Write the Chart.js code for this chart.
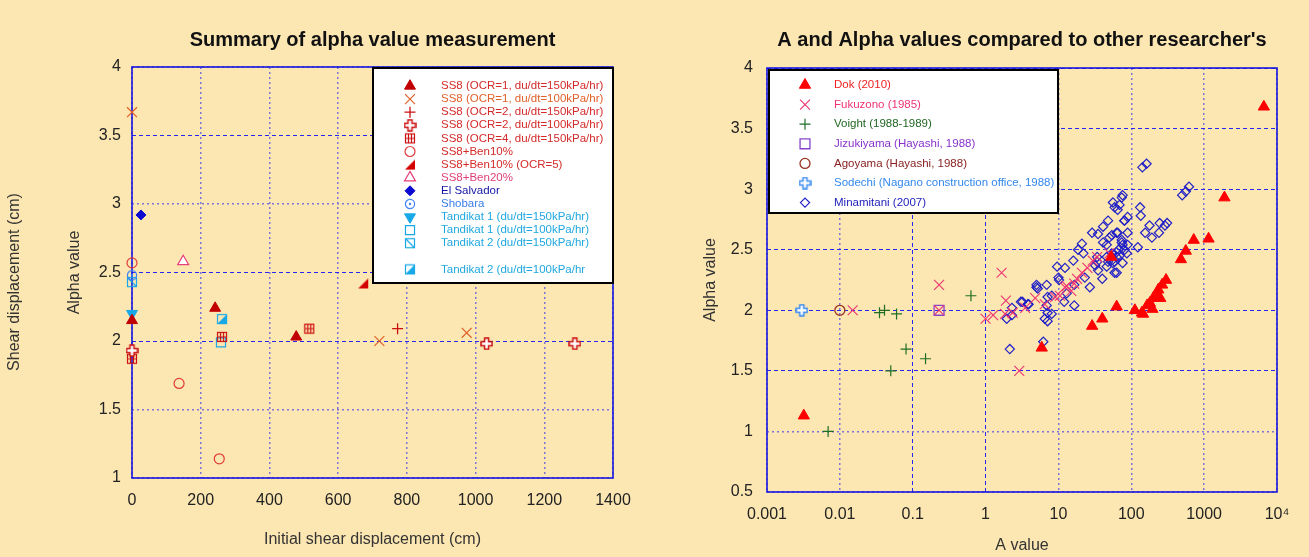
<!DOCTYPE html>
<html>
<head>
<meta charset="utf-8">
<script src="https://cdn.jsdelivr.net/npm/chart.js@4.4.0/dist/chart.umd.min.js"></script>
<style>
  html, body { margin: 0; padding: 0; background: #fce7b2; }
  #wrap { position: relative; width: 1309px; height: 557px; overflow: hidden; }
  .panel { position: absolute; top: 0; height: 557px; }
  #leftPanel { left: 0; width: 655px; }
  #rightPanel { left: 655px; width: 654px; }
</style>
</head>
<body>
<div id="wrap">
  <div class="panel" id="leftPanel"><canvas id="alphaChart" width="655" height="557"></canvas></div>
  <div class="panel" id="rightPanel"><canvas id="compareChart" width="654" height="557"></canvas></div>
</div>
<script>
// ---------- left chart data ----------
const dispTicks = [0, 200, 400, 600, 800, 1000, 1200, 1400];
const alphaTicksLeft = [1, 1.5, 2, 2.5, 3, 3.5, 4];
const alphaLabelsLeft = ['1', '1.5', '2', '2.5', '3', '3.5', '4'];

const ss8Ocr1Fast = [[0, 2.15], [242, 2.24], [478, 2.03]];
const ss8Ocr1Slow = [[0, 3.67], [720, 2.0], [974, 2.06]];
const ss8Ocr2Fast = [[773, 2.09]];
const ss8Ocr2Slow = [[0, 1.93], [1032, 1.98], [1289, 1.98]];
const ss8Ocr4Fast = [[0, 1.87], [262, 2.03], [516, 2.09]];
const ben10 = [[0, 2.57], [137, 1.69], [254, 1.14]];
const ben10Ocr5 = [[673, 2.42]];
const ben20 = [[149, 2.58]];
const elSalvador = [[26, 2.92]];
const shobara = [[0, 2.48]];
const tandikat1Fast = [[0, 2.2]];
const tandikat1Slow = [[259, 1.99]];
const tandikat2Fast = [[0, 2.43]];
const tandikat2Slow = [[262, 2.16]];

// ---------- right chart data ----------
const aTicks = [0.001, 0.01, 0.1, 1, 10, 100, 1000, 10000];
const aTickLabels = ['0.001', '0.01', '0.1', '1', '10', '100', '1000', '10\u2074'];
const alphaTicksRight = [0.5, 1, 1.5, 2, 2.5, 3, 3.5, 4];
const alphaLabelsRight = ['0.5', '1', '1.5', '2', '2.5', '3', '3.5', '4'];

const dok = [[0.0032, 1.13], [5.9, 1.69], [29, 1.87], [40, 1.93], [53, 2.44], [63, 2.03],
  [112, 2.0], [140, 1.98], [145, 1.97], [165, 2.04], [180, 2.06], [195, 2.01], [200, 2.1],
  [225, 2.14], [235, 2.17], [250, 2.1], [265, 2.21], [300, 2.25], [480, 2.42], [560, 2.49],
  [720, 2.58], [1150, 2.59], [1900, 2.93], [6600, 3.68]];
const fukuzono = [[0.015, 2.0], [0.23, 2.21], [0.23, 2.0], [1.66, 2.31], [1.0, 1.93],
  [1.27, 1.96], [1.9, 2.08], [1.85, 1.97], [2.9, 1.5], [4.8, 2.1], [2.35, 1.98], [3.5, 2.02],
  [6.5, 2.05], [9, 2.11], [10.5, 2.12], [12.3, 2.19], [13, 2.2], [15, 2.16], [16.5, 2.22],
  [18, 2.26], [21, 2.31], [25, 2.35], [29.5, 2.41], [34, 2.44], [50, 2.47]];
const voight = [[0.0069, 1.0], [0.035, 1.98], [0.041, 2.0], [0.06, 1.97], [0.081, 1.68],
  [0.05, 1.5], [0.15, 1.6], [0.63, 2.12]];
const jizukiyama = [[0.23, 2.0]];
const agoyama = [[0.01, 2.0]];
const sodechi = [[0.003, 2.0]];
const minamitani = [[2.15, 1.68], [6.2, 1.74], [1.95, 1.93], [2.3, 1.96], [2.3, 2.02],
  [3.05, 2.07], [3.2, 2.07], [3.8, 2.05], [3.9, 2.05], [5.0, 2.21], [5.2, 2.18], [5.0, 2.19],
  [6.9, 2.21], [7.1, 2.11], [6.9, 2.04], [6.5, 1.93], [7.1, 1.98], [7.1, 1.91], [8.1, 1.97],
  [8.1, 2.12], [9.6, 2.36], [10, 2.27], [10.2, 2.25], [12.3, 2.35], [12, 2.07], [13, 2.14],
  [16.5, 2.04], [16, 2.41], [16.5, 2.21], [21, 2.55], [22, 2.47], [18.6, 2.5], [23, 2.27],
  [27, 2.19], [29, 2.64], [35, 2.63], [34, 2.44], [34, 2.4], [32, 2.37], [40, 2.26], [35, 2.33],
  [41, 2.69], [48, 2.74], [41, 2.56], [46, 2.54], [50, 2.6], [54, 2.62], [46, 2.44], [46, 2.36],
  [48, 2.4], [54, 2.47], [54, 2.41], [56, 2.39], [63, 2.64], [63, 2.48], [56, 2.89], [59, 2.85],
  [74, 2.93], [69, 2.87], [65, 2.83], [67, 2.5], [63, 2.44], [74, 2.58], [74, 2.56], [76, 2.54],
  [69, 2.45], [59, 2.31], [81, 2.74], [80, 2.74], [89, 2.77], [87, 2.47], [76, 2.39], [76, 2.95],
  [65, 2.64], [142, 3.18], [162, 3.21], [500, 2.95], [560, 2.98], [620, 3.02], [132, 2.85],
  [135, 2.78], [178, 2.7], [245, 2.72], [290, 2.7], [310, 2.72], [155, 2.64], [192, 2.6],
  [240, 2.64], [123, 2.52], [89, 2.64], [89, 2.54], [81, 2.5], [63, 2.31], [59, 2.4]];

// ---------- helpers ----------
const FONT = "'Liberation Sans', Arial, sans-serif";
const darkDash = '#2626f0';
const lightDot = '#7c74d8';

function pts(arr) {
  return arr.map(([x, y]) => ({ x, y }));
}

function series(label, arr, style) {
  return Object.assign({ label, data: pts(arr), showLine: false, clip: false, pointHoverRadius: 0 }, style);
}

function markerCanvas(size, draw) {
  const c = document.createElement('canvas');
  c.width = size;
  c.height = size;
  draw(c.getContext('2d'), size);
  return c;
}

const greekCross = (color) => markerCanvas(13, (g) => {
  g.beginPath();
  [[4.5, 1], [8.5, 1], [8.5, 4.5], [12, 4.5], [12, 8.5], [8.5, 8.5], [8.5, 12], [4.5, 12],
    [4.5, 8.5], [1, 8.5], [1, 4.5], [4.5, 4.5]].forEach(([x, y], i) => i ? g.lineTo(x, y) : g.moveTo(x, y));
  g.closePath();
  g.fillStyle = '#fff';
  g.fill();
  g.strokeStyle = color;
  g.lineWidth = 1.5;
  g.stroke();
});

const gridBox = (color) => markerCanvas(12, (g) => {
  g.strokeStyle = color;
  g.lineWidth = 1.2;
  g.strokeRect(1.5, 1.5, 9, 9);
  g.beginPath();
  g.moveTo(4.5, 1.5); g.lineTo(4.5, 10.5);
  g.moveTo(7.5, 1.5); g.lineTo(7.5, 10.5);
  g.moveTo(1.5, 6); g.lineTo(10.5, 6);
  g.stroke();
});

const rightTri = (color) => markerCanvas(12, (g) => {
  g.beginPath();
  g.moveTo(1, 11); g.lineTo(11, 11); g.lineTo(11, 1);
  g.closePath();
  g.fillStyle = color;
  g.fill();
});

const dotCircle = (color) => markerCanvas(12, (g) => {
  g.strokeStyle = color;
  g.lineWidth = 1.2;
  g.beginPath(); g.arc(6, 6, 4.6, 0, Math.PI * 2); g.stroke();
  g.fillStyle = color;
  g.beginPath(); g.arc(6, 6, 1.2, 0, Math.PI * 2); g.fill();
});

const diagBox = (color) => markerCanvas(12, (g) => {
  g.strokeStyle = color;
  g.lineWidth = 1.2;
  g.strokeRect(1.5, 1.5, 9, 9);
  g.beginPath(); g.moveTo(1.5, 1.5); g.lineTo(10.5, 10.5); g.stroke();
});

const halfBox = (color) => markerCanvas(12, (g) => {
  g.fillStyle = color;
  g.beginPath(); g.moveTo(1.5, 10.5); g.lineTo(10.5, 10.5); g.lineTo(10.5, 1.5); g.closePath(); g.fill();
  g.strokeStyle = color;
  g.lineWidth = 1.2;
  g.strokeRect(1.5, 1.5, 9, 9);
});

// ---------- plugins ----------
const frame = {
  id: 'frame',
  beforeDatasetsDraw(chart) {
    const { ctx, chartArea: a } = chart;
    ctx.save();
    ctx.strokeStyle = '#1616e0';
    ctx.lineWidth = 1.6;
    ctx.strokeRect(a.left, a.top, a.right - a.left, a.bottom - a.top);
    ctx.restore();
  }
};

const plotTitle = {
  id: 'plotTitle',
  afterDraw(chart, args, opts) {
    const { ctx, chartArea: a } = chart;
    ctx.save();
    ctx.font = 'bold 20px ' + FONT;
    ctx.fillStyle = '#111';
    ctx.textAlign = 'center';
    ctx.textBaseline = 'middle';
    ctx.fillText(opts.text, (a.left + a.right) / 2, opts.y);
    ctx.restore();
  }
};

const sideNote = {
  id: 'sideNote',
  afterDraw(chart, args, opts) {
    if (!opts.text) return;
    const ctx = chart.ctx;
    ctx.save();
    ctx.translate(opts.x, opts.y);
    ctx.rotate(-Math.PI / 2);
    ctx.font = '16px ' + FONT;
    ctx.fillStyle = '#333';
    ctx.textAlign = 'center';
    ctx.textBaseline = 'middle';
    ctx.fillText(opts.text, 0, 0);
    ctx.restore();
  }
};

const boxLegend = {
  id: 'boxLegend',
  afterDatasetsDraw(chart, args, opts) {
    const ctx = chart.ctx;
    const [x0, y0, x1, y1] = opts.box;
    ctx.save();
    ctx.fillStyle = '#fff';
    ctx.fillRect(x0, y0, x1 - x0, y1 - y0);
    ctx.lineWidth = 2;
    ctx.strokeStyle = '#000';
    ctx.strokeRect(x0, y0, x1 - x0, y1 - y0);
    ctx.font = opts.fontSize + 'px ' + FONT;
    ctx.textBaseline = 'middle';
    ctx.textAlign = 'left';
    chart.data.datasets.forEach((ds, i) => {
      const row = (opts.gapAt >= 0 && i >= opts.gapAt) ? i + 1 : i;
      const y = opts.rowTop + row * opts.rowStep;
      ctx.fillStyle = ds.pointBackgroundColor;
      ctx.strokeStyle = ds.pointBorderColor;
      ctx.lineWidth = ds.pointBorderWidth;
      Chart.helpers.drawPoint(ctx, {
        pointStyle: ds.pointStyle,
        radius: ds.pointRadius,
        rotation: ds.pointRotation || 0,
        borderWidth: ds.pointBorderWidth
      }, opts.markerX, y);
      ctx.fillStyle = ds.textColor;
      ctx.fillText(ds.label, opts.textX, y);
    });
    ctx.restore();
  }
};

function gridFor(dashedValues) {
  const isDashed = c => dashedValues.includes(c.tick && c.tick.value);
  return {
    grid: {
      drawTicks: false,
      color: c => isDashed(c) ? darkDash : lightDot,
      lineWidth: c => isDashed(c) ? 1 : 1.5
    },
    border: {
      display: false,
      dash: c => isDashed(c) ? [4, 3] : [2, 3]
    }
  };
}

const tickFont = { family: FONT, size: 16 };
const titleFont = { family: FONT, size: 16 };

// ---------- left chart ----------
const red = '#cc1010';
new Chart(document.getElementById('alphaChart'), {
  type: 'scatter',
  data: {
    datasets: [
      series('SS8 (OCR=1, du/dt=150kPa/hr)', ss8Ocr1Fast, { pointStyle: 'triangle', pointRadius: 6.3, pointBorderWidth: 1, pointBorderColor: '#c00000', pointBackgroundColor: '#c00000', textColor: '#d42a2a' }),
      series('SS8 (OCR=1, du/dt=100kPa/hr)', ss8Ocr1Slow, { pointStyle: 'crossRot', pointRadius: 7, pointBorderWidth: 1.2, pointBorderColor: '#e0602a', pointBackgroundColor: '#e0602a', textColor: '#e0602a' }),
      series('SS8 (OCR=2, du/dt=150kPa/hr)', ss8Ocr2Fast, { pointStyle: 'cross', pointRadius: 5.5, pointBorderWidth: 1.3, pointBorderColor: red, pointBackgroundColor: red, textColor: '#d42a2a' }),
      series('SS8 (OCR=2, du/dt=100kPa/hr)', ss8Ocr2Slow, { pointStyle: greekCross(red), pointRadius: 6, pointBorderWidth: 0, pointBorderColor: red, pointBackgroundColor: red, textColor: '#d42a2a' }),
      series('SS8 (OCR=4, du/dt=150kPa/hr)', ss8Ocr4Fast, { pointStyle: gridBox(red), pointRadius: 6, pointBorderWidth: 0, pointBorderColor: red, pointBackgroundColor: red, textColor: '#d42a2a' }),
      series('SS8+Ben10%', ben10, { pointStyle: 'circle', pointRadius: 5, pointBorderWidth: 1.2, pointBorderColor: '#e03c3c', pointBackgroundColor: 'rgba(0,0,0,0)', textColor: '#d42a2a' }),
      series('SS8+Ben10% (OCR=5)', ben10Ocr5, { pointStyle: rightTri('#d40000'), pointRadius: 6, pointBorderWidth: 0, pointBorderColor: '#d40000', pointBackgroundColor: '#d40000', textColor: '#d42a2a' }),
      series('SS8+Ben20%', ben20, { pointStyle: 'triangle', pointRadius: 6.3, pointBorderWidth: 1.2, pointBorderColor: '#e8407a', pointBackgroundColor: '#fff', textColor: '#e0407a' }),
      series('El Salvador', elSalvador, { pointStyle: 'rectRot', pointRadius: 5, pointBorderWidth: 1, pointBorderColor: '#0a0ad0', pointBackgroundColor: '#0a0ad0', textColor: '#1414a8' }),
      series('Shobara', shobara, { pointStyle: dotCircle('#3a80f0'), pointRadius: 6, pointBorderWidth: 0, pointBorderColor: '#3a80f0', pointBackgroundColor: '#3a80f0', textColor: '#3a7de8' }),
      series('Tandikat 1 (du/dt=150kPa/hr)', tandikat1Fast, { pointStyle: 'triangle', pointRotation: 180, pointRadius: 6.3, pointBorderWidth: 1, pointBorderColor: '#18a8e8', pointBackgroundColor: '#18a8e8', textColor: '#20a8e0' }),
      series('Tandikat 1 (du/dt=100kPa/hr)', tandikat1Slow, { pointStyle: 'rect', pointRadius: 6.4, pointBorderWidth: 1.2, pointBorderColor: '#18a8e8', pointBackgroundColor: 'rgba(0,0,0,0)', textColor: '#20a8e0' }),
      series('Tandikat 2 (du/dt=150kPa/hr)', tandikat2Fast, { pointStyle: diagBox('#18a8e8'), pointRadius: 6, pointBorderWidth: 0, pointBorderColor: '#18a8e8', pointBackgroundColor: '#18a8e8', textColor: '#20a8e0' }),
      series('Tandikat 2 (du/dt=100kPa/hr', tandikat2Slow, { pointStyle: halfBox('#18a8e8'), pointRadius: 6, pointBorderWidth: 0, pointBorderColor: '#18a8e8', pointBackgroundColor: '#18a8e8', textColor: '#20a8e0' })
    ]
  },
  options: {
    responsive: false,
    animation: false,
    events: [],
    layout: { padding: { left: 0, right: 42, top: 67, bottom: 0 } },
    plugins: {
      legend: { display: false },
      tooltip: { enabled: false },
      plotTitle: { text: 'Summary of alpha value measurement', y: 40 },
      sideNote: { text: 'Shear displacement (cm)', x: 15, y: 282 },
      boxLegend: { box: [373, 68, 613, 283], markerX: 410, textX: 441, rowTop: 86, rowStep: 13.1, gapAt: 13, fontSize: 11.5 }
    },
    scales: {
      x: Object.assign({
        type: 'linear', min: 0, max: 1400,
        afterBuildTicks: s => { s.ticks = dispTicks.map(v => ({ value: v })); },
        afterFit: s => { s.height = 79; },
        ticks: { color: '#222', font: tickFont, padding: 13, maxRotation: 0, autoSkip: false, callback: v => String(v) },
        title: { display: true, text: 'Initial shear displacement (cm)', color: '#333', font: titleFont, padding: { top: 0, bottom: 8 } }
      }, gridFor([])),
      y: Object.assign({
        type: 'linear', min: 1, max: 4,
        afterBuildTicks: s => { s.ticks = alphaTicksLeft.map(v => ({ value: v })); },
        afterFit: s => { s.width = 132; },
        ticks: { color: '#222', font: tickFont, padding: 11, autoSkip: false, callback: (v, i) => alphaLabelsLeft[i] },
        title: { display: true, text: 'Alpha value', color: '#333', font: titleFont, padding: { top: 65, bottom: 0 } }
      }, gridFor([3.5, 2.5, 2]))
    }
  },
  plugins: [frame, plotTitle, sideNote, boxLegend]
});

// ---------- right chart ----------
new Chart(document.getElementById('compareChart'), {
  type: 'scatter',
  data: {
    datasets: [
      series('Dok (2010)', dok, { pointStyle: 'triangle', pointRadius: 6.5, pointBorderWidth: 1, pointBorderColor: '#ff0000', pointBackgroundColor: '#ff0000', textColor: '#ee2222' }),
      series('Fukuzono (1985)', fukuzono, { pointStyle: 'crossRot', pointRadius: 7, pointBorderWidth: 1.1, pointBorderColor: '#ee3372', pointBackgroundColor: '#ee3372', textColor: '#ee3377' }),
      series('Voight (1988-1989)', voight, { pointStyle: 'cross', pointRadius: 5.5, pointBorderWidth: 1.2, pointBorderColor: '#1f6e26', pointBackgroundColor: '#1f6e26', textColor: '#226622' }),
      series('Jizukiyama (Hayashi, 1988)', jizukiyama, { pointStyle: 'rect', pointRadius: 7, pointBorderWidth: 1.3, pointBorderColor: '#8844cc', pointBackgroundColor: 'rgba(0,0,0,0)', textColor: '#8833cc' }),
      series('Agoyama (Hayashi, 1988)', agoyama, { pointStyle: 'circle', pointRadius: 5, pointBorderWidth: 1.3, pointBorderColor: '#993322', pointBackgroundColor: 'rgba(0,0,0,0)', textColor: '#882222' }),
      series('Sodechi (Nagano construction office, 1988)', sodechi, { pointStyle: greekCross('#3a8cf0'), pointRadius: 6, pointBorderWidth: 0, pointBorderColor: '#3a8cf0', pointBackgroundColor: '#3a8cf0', textColor: '#3388ee' }),
      series('Minamitani (2007)', minamitani, { pointStyle: 'rectRot', pointRadius: 4.6, pointBorderWidth: 1.2, pointBorderColor: '#2020c8', pointBackgroundColor: 'rgba(0,0,0,0)', textColor: '#2222bb' })
    ]
  },
  options: {
    responsive: false,
    animation: false,
    events: [],
    layout: { padding: { left: 0, right: 32, top: 68, bottom: 0 } },
    plugins: {
      legend: { display: false },
      tooltip: { enabled: false },
      plotTitle: { text: "A and Alpha values compared to other researcher's", y: 40 },
      sideNote: { text: '' },
      boxLegend: { box: [114, 70, 403, 213], markerX: 150, textX: 179, rowTop: 85, rowStep: 19.6, gapAt: -1, fontSize: 11.5 }
    },
    scales: {
      x: Object.assign({
        type: 'logarithmic', min: 0.001, max: 10000,
        afterBuildTicks: s => { s.ticks = aTicks.map(v => ({ value: v })); },
        afterFit: s => { s.height = 65; },
        ticks: { color: '#222', font: tickFont, padding: 13, maxRotation: 0, autoSkip: false, callback: (v, i) => aTickLabels[i] },
        title: { display: true, text: 'A value', color: '#333', font: titleFont, padding: { top: 0, bottom: 2 } }
      }, gridFor([0.1, 1])),
      y: Object.assign({
        type: 'linear', min: 0.5, max: 4,
        afterBuildTicks: s => { s.ticks = alphaTicksRight.map(v => ({ value: v })); },
        afterFit: s => { s.width = 112; },
        ticks: { color: '#222', font: tickFont, padding: 14, autoSkip: false, callback: (v, i) => alphaLabelsRight[i] },
        title: { display: true, text: 'Alpha value', color: '#333', font: titleFont, padding: { top: 46, bottom: 0 } }
      }, gridFor([4, 3.5, 3, 2.5, 2, 1.5]))
    }
  },
  plugins: [frame, plotTitle, sideNote, boxLegend]
});
</script>
</body>
</html>
